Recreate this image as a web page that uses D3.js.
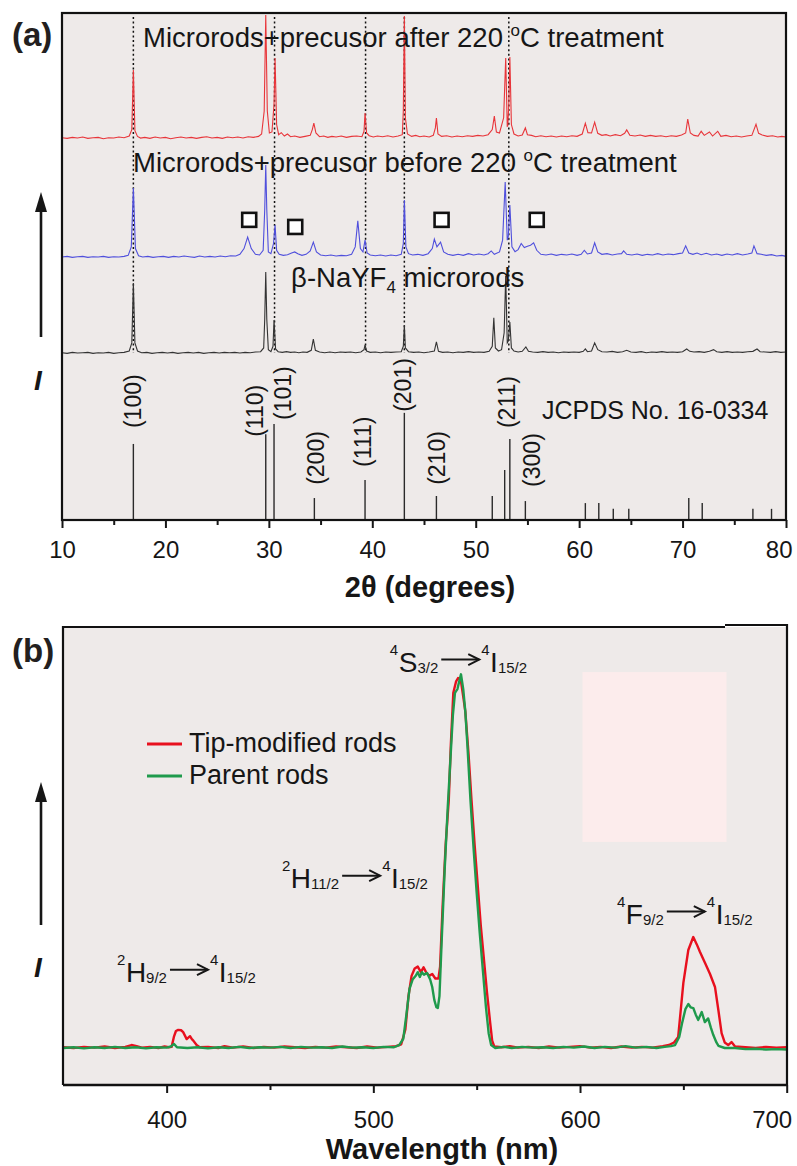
<!DOCTYPE html>
<html>
<head>
<meta charset="utf-8">
<script src="https://cdn.jsdelivr.net/npm/d3@7"></script>
<style>
  html, body { margin: 0; padding: 0; background: #ffffff; }
  svg { display: block; font-family: "Liberation Sans", Arial, Helvetica, sans-serif; }
</style>
</head>
<body>
<svg id="fig" width="797" height="1166"></svg>
<script>
// ---------------- (a) XRD patterns ----------------
const xrdTicks = [10, 20, 30, 40, 50, 60, 70, 80];
const xrdMinorTicks = [15, 25, 35, 45, 55, 65, 75];

// vertical stacking offsets of the three patterns (a.u.)
const offsetAfter = 113;
const offsetBefore = 77.8;
const offsetPure = 49.4;

// microrods + precursor after 220 °C treatment: [2θ, intensity]
const xrdAfter = [
  [10.0,0.1],[10.5,-0.1],[11.0,0.2],[11.5,0.0],[12.0,0.3],[12.5,-0.1],[13.0,0.1],[13.5,0.2],[14.0,-0.2],[14.5,0.1],
  [15.0,0.0],[15.5,0.3],[16.0,0.1],[16.5,0.6],[16.75,2.5],[16.9,20.1],[17.05,2.2],[17.3,0.5],[17.6,0.0],[18.0,0.2],
  [18.5,-0.1],[19.0,0.3],[19.5,0.0],[20.0,0.2],[20.5,-0.2],[21.0,0.1],[21.5,0.3],[22.0,0.0],[22.5,0.2],[23.0,-0.1],
  [23.5,0.2],[24.0,0.4],[24.5,0.0],[25.0,0.2],[25.5,-0.1],[26.0,0.3],[26.5,0.1],[27.0,0.3],[27.5,0.0],[28.0,0.4],
  [28.5,0.2],[29.0,0.5],[29.3,1.2],[29.55,8],[29.7,36.4],[29.85,8],[30.05,1.5],[30.3,1.8],[30.5,10],[30.6,23.7],
  [30.75,4],[30.95,1.0],[31.2,1.6],[31.5,0.6],[31.8,1.2],[32.1,0.4],[32.5,0.6],[33.0,0.2],[33.5,0.5],[34.0,0.8],
  [34.2,2.5],[34.35,4.4],[34.55,1.5],[34.9,0.4],[35.3,0.6],[35.7,0.2],[36.1,0.5],[36.5,0.3],[37.0,0.6],[37.5,0.2],
  [38.0,0.5],[38.5,0.6],[39.0,0.4],[39.2,2.0],[39.3,7.4],[39.45,1.5],[39.7,0.7],[40.1,0.3],[40.5,0.6],[41.0,0.4],
  [41.5,0.7],[42.0,0.3],[42.5,0.6],[42.9,1.0],[43.0,8],[43.1,36.1],[43.2,6],[43.4,1.2],[43.8,0.5],[44.2,0.8],
  [44.6,0.4],[45.0,0.6],[45.5,0.3],[45.9,0.8],[46.1,3],[46.2,5.9],[46.35,1.2],[46.7,0.5],[47.2,0.7],[47.7,0.3],
  [48.2,0.6],[48.7,0.4],[49.2,0.7],[49.7,0.5],[50.2,0.8],[50.7,0.6],[51.2,1.0],[51.6,2.5],[51.8,6.5],[52.0,1.8],
  [52.3,1.5],[52.7,6],[52.9,23.7],[53.05,3.5],[53.1,3.6],[53.2,10],[53.3,24],[53.45,4],[53.7,1.2],[54.1,0.6],
  [54.5,0.9],[54.8,3.0],[55.0,1.0],[55.4,0.8],[55.8,0.4],[56.3,0.7],[56.8,0.4],[57.3,0.6],[57.8,0.3],[58.3,0.6],
  [58.8,0.4],[59.3,0.7],[59.8,0.5],[60.3,1.2],[60.6,4.4],[60.85,1.6],[61.2,1.5],[61.5,4.7],[61.8,1.4],[62.2,0.8],
  [62.6,1.0],[63.0,0.6],[63.5,1.0],[64.0,0.7],[64.4,1.4],[64.6,2.4],[64.9,0.8],[65.4,0.6],[65.9,0.9],[66.4,0.5],
  [66.9,0.8],[67.4,0.5],[67.9,0.7],[68.4,0.4],[68.9,0.7],[69.4,0.5],[69.9,0.9],[70.3,1.5],[70.5,5.6],[70.75,1.5],
  [71.1,0.8],[71.5,0.6],[71.8,2.0],[72.1,0.8],[72.6,1.8],[72.9,0.6],[73.4,2.0],[73.7,0.5],[74.2,0.8],[74.7,0.4],
  [75.2,0.6],[75.7,0.3],[76.2,0.6],[76.7,0.8],[77.1,4.1],[77.35,1.4],[77.7,0.9],[78.2,0.5],[78.7,0.7],[79.2,0.3],
  [79.6,0.5],[80.0,0.3]
];

// microrods + precursor before 220 °C treatment
const xrdBefore = [
  [10.0,0.0],[10.5,0.2],[11.0,-0.1],[11.5,0.1],[12.0,0.2],[12.5,-0.1],[13.0,0.1],[13.5,0.0],[14.0,0.2],[14.5,-0.1],
  [15.0,0.1],[15.5,0.0],[16.0,0.2],[16.4,0.5],[16.7,3],[16.9,20.4],[17.1,2.5],[17.4,0.4],[17.8,0.0],[18.3,0.2],
  [18.8,-0.1],[19.3,0.1],[19.8,0.2],[20.3,-0.1],[20.8,0.2],[21.3,0.0],[21.8,0.3],[22.3,0.1],[22.8,-0.1],[23.3,0.3],
  [23.8,0.0],[24.3,0.2],[24.8,0.0],[25.3,0.3],[25.8,0.1],[26.3,0.4],[26.8,0.3],[27.2,0.8],[27.6,2.5],[27.95,5.9],
  [28.3,2.5],[28.7,0.8],[29.1,0.6],[29.45,2],[29.6,14],[29.7,27.2],[29.8,14],[29.95,1.5],[30.2,1.0],[30.45,4],
  [30.6,9.5],[30.75,2],[31.0,0.8],[31.4,0.5],[31.8,0.7],[32.2,1.2],[32.5,1.5],[32.8,1.0],[33.2,0.5],[33.6,0.8],
  [34.0,1.8],[34.3,4.4],[34.6,1.5],[35.0,0.6],[35.5,0.4],[36.0,0.6],[36.5,0.3],[37.0,0.5],[37.5,0.4],[38.0,0.8],
  [38.35,3],[38.6,10.7],[38.85,2.5],[39.1,1.5],[39.3,5],[39.5,1.2],[39.8,0.6],[40.3,0.4],[40.8,0.6],[41.3,0.3],
  [41.8,0.6],[42.3,0.4],[42.8,0.8],[43.0,4],[43.1,16.9],[43.25,3],[43.5,1.0],[43.9,0.6],[44.4,0.8],[44.9,0.5],
  [45.4,1.0],[45.8,2.5],[46.0,5.3],[46.25,3.0],[46.6,4.4],[46.9,1.5],[47.3,0.8],[47.8,0.5],[48.3,0.8],[48.8,0.5],
  [49.3,1.0],[49.8,0.6],[50.3,0.9],[50.8,0.6],[51.2,1.0],[51.5,1.8],[51.8,0.8],[52.3,1.5],[52.6,5],[52.85,22.2],
  [53.05,5],[53.15,6],[53.3,15.4],[53.5,3],[53.8,1.6],[54.1,2.2],[54.4,4.0],[54.7,2.8],[55.0,3.2],[55.3,3.5],
  [55.6,4.2],[55.9,2.0],[56.3,0.8],[56.8,0.6],[57.3,0.9],[57.8,0.5],[58.3,0.8],[58.8,0.6],[59.3,0.9],[59.8,0.5],
  [60.2,0.8],[60.5,2.0],[60.8,0.9],[61.2,1.2],[61.5,4.2],[61.8,1.5],[62.2,0.8],[62.7,1.0],[63.2,0.6],[63.7,0.9],
  [64.1,1.0],[64.3,1.8],[64.6,0.8],[65.1,0.6],[65.6,0.9],[66.1,0.5],[66.6,0.8],[67.1,0.6],[67.6,1.0],[68.1,0.6],
  [68.6,0.9],[69.1,0.7],[69.6,1.0],[70.0,1.2],[70.3,3.3],[70.6,1.2],[71.0,0.8],[71.4,1.2],[71.8,0.7],[72.3,1.1],
  [72.8,0.6],[73.3,0.9],[73.8,0.5],[74.3,0.9],[74.8,0.6],[75.3,1.0],[75.8,0.6],[76.3,0.9],[76.7,1.2],[76.9,3.3],
  [77.2,1.0],[77.6,0.8],[78.1,0.5],[78.6,0.7],[79.1,0.3],[79.6,0.5],[80.0,0.2]
];

// β-NaYF4 microrods
const xrdPure = [
  [10.0,0.1],[10.5,-0.1],[11.0,0.2],[11.5,0.0],[12.0,0.1],[12.5,0.2],[13.0,-0.1],[13.5,0.1],[14.0,0.0],[14.5,0.2],
  [15.0,-0.1],[15.5,0.1],[16.0,0.2],[16.5,0.6],[16.75,3],[16.9,20.7],[17.05,3],[17.3,0.6],[17.7,0.1],[18.2,0.2],
  [18.7,-0.1],[19.2,0.1],[19.7,0.2],[20.2,0.0],[20.7,0.2],[21.2,-0.1],[21.7,0.1],[22.2,0.2],[22.7,0.0],[23.2,0.2],
  [23.7,-0.1],[24.2,0.1],[24.7,0.2],[25.2,0.0],[25.7,0.2],[26.2,0.1],[26.7,0.2],[27.2,0.0],[27.7,0.2],[28.2,0.1],
  [28.7,0.3],[29.2,0.4],[29.5,1.5],[29.6,10],[29.7,24],[29.8,10],[29.95,1.0],[30.2,0.4],[30.4,2],[30.5,9.8],
  [30.65,1.2],[30.9,0.4],[31.3,0.2],[31.7,0.4],[32.1,0.2],[32.5,0.3],[32.9,0.1],[33.3,0.3],[33.7,0.2],[34.1,0.8],
  [34.3,4.1],[34.5,0.8],[34.9,0.3],[35.4,0.1],[35.9,0.3],[36.4,0.1],[36.9,0.3],[37.4,0.2],[37.9,0.3],[38.4,0.1],
  [38.9,0.3],[39.2,1.0],[39.3,2.4],[39.45,0.6],[39.8,0.2],[40.3,0.3],[40.8,0.1],[41.3,0.3],[41.8,0.2],[42.3,0.3],
  [42.8,0.4],[43.0,2],[43.1,8.3],[43.2,1.5],[43.5,0.4],[44.0,0.2],[44.5,0.3],[45.0,0.1],[45.5,0.3],[46.0,0.6],
  [46.2,3.3],[46.4,0.5],[46.8,0.2],[47.3,0.3],[47.8,0.1],[48.3,0.3],[48.8,0.2],[49.3,0.4],[49.8,0.2],[50.3,0.3],
  [50.8,0.2],[51.3,0.5],[51.6,2],[51.75,10.4],[51.9,1.5],[52.2,0.6],[52.5,1.0],[52.75,6],[52.9,22.8],[53.05,3],
  [53.15,3.5],[53.3,9.2],[53.45,1.5],[53.7,0.6],[54.1,0.3],[54.5,0.5],[54.85,1.8],[55.1,0.5],[55.5,0.3],[56.0,0.2],
  [56.5,0.4],[57.0,0.2],[57.5,0.3],[58.0,0.1],[58.5,0.3],[59.0,0.2],[59.5,0.3],[60.0,0.2],[60.4,0.5],[60.6,1.2],
  [60.8,0.4],[61.2,0.6],[61.5,3.0],[61.8,1.0],[62.2,0.4],[62.7,0.3],[63.2,0.5],[63.7,0.2],[64.2,0.4],[64.6,0.8],
  [65.0,0.3],[65.5,0.2],[66.0,0.4],[66.5,0.1],[67.0,0.3],[67.5,0.2],[68.0,0.4],[68.5,0.2],[69.0,0.3],[69.5,0.2],
  [70.0,0.4],[70.4,1.2],[70.7,0.5],[71.1,0.3],[71.6,0.4],[72.1,0.2],[72.6,0.5],[73.0,1.0],[73.3,0.4],[73.8,0.2],
  [74.3,0.4],[74.8,0.2],[75.3,0.3],[75.8,0.2],[76.3,0.4],[76.8,0.5],[77.2,1.2],[77.5,0.4],[78.0,0.3],[78.5,0.2],
  [79.0,0.4],[79.5,0.2],[80.0,0.3]
];

// JCPDS No. 16-0334 reference lines: [2θ, relative intensity]
const jcpdsLines = [
  [16.9,22.5],[29.7,25.4],[30.5,28.4],[34.4,6.5],[39.3,11.8],[43.1,31.7],[46.2,7.1],[51.6,7.1],
  [52.8,14.8],[53.3,24],[54.8,5.6],[60.6,5.0],[61.9,5.0],[63.3,3.3],[64.8,3.3],[70.6,6.5],
  [71.9,5.0],[76.8,3.3],[78.6,3.3]
];
// Miller indices: [label, 2θ, intensity at the foot of the label]
const hklLabels = [
  ["(100)",16.9,27.2],["(110)",28.67,24.6],["(101)",31.4,29.6],["(200)",34.6,10.4],["(111)",39.1,15.7],
  ["(201)",42.95,32],["(210)",46.3,10.4],["(211)",53.05,27.2],["(300)",55.4,9.8]
];
// guide lines through the main reflections
const guideLines = [16.9, 30.55, 39.35, 43.1, 53.2];
// precursor reflections marked with squares: [2θ, intensity]
const precursorMarks = [[28.1,88.8],[32.55,86.7],[46.7,88.8],[55.9,88.8]];

// ---------------- (b) upconversion emission ----------------
const wlTicks = [400, 500, 600, 700];
const wlMinorTicks = [450, 550, 650];

// tip-modified rods: [wavelength nm, intensity]
const emTip = [
  [350,0.2],[355,0.0],[360,0.3],[365,0.1],[370,0.4],[375,0.0],[380,0.3],[383,0.8],[385.5,0.5],[388,0.1],
  [392,0.3],[396,0.0],[399,0.4],[401,0.2],[402.4,0.3],[403.5,3],[404.5,4.6],[405.6,4.9],[407,4.8],[408,4.3],
  [409.7,2.4],[411.3,3.2],[412.2,2.4],[412.9,2.0],[414.5,0.8],[416,0.2],[420,0.3],[425,0.0],[428,0.5],[432,0.1],
  [437,0.4],[442,0.0],[447,0.3],[452,0.1],[457,0.4],[462,0.2],[467,0.0],[472,0.3],[477,0.1],[482,0.4],
  [487,0.2],[492,0.0],[497,0.4],[502,0.1],[507,0.3],[511,0.5],[513.5,1.0],[515.5,5],[517,14],[518.5,19.5],
  [520,21.5],[521.5,22],[523,20.5],[524.3,21.8],[525.5,20.5],[527,19.5],[528.5,20],[530,18.8],[531.5,18.8],[532.3,22],
  [533.5,38],[535,55],[536.5,67],[537.5,82],[538.7,96],[540,99],[541,100],[542.3,99.5],[543.5,95],[544.5,91],
  [546,80],[547.5,67],[549,55],[550.5,44],[552,33],[553.5,24],[555,15],[556.5,7],[557.5,2],[558.5,0.4],
  [562,0.2],[566,0.5],[570,0.1],[575,0.3],[580,0.0],[585,0.4],[590,0.1],[595,0.3],[600,0.5],[605,0.1],
  [610,0.3],[615,0.0],[620,0.4],[625,0.1],[630,0.3],[635,0.1],[640,0.5],[643,0.8],[645.5,1.5],[647.5,3],
  [650,17.6],[652.4,26.5],[654.8,30],[656.5,28],[658,26],[660.5,23],[662.9,20],[665.3,16.5],[667,10],[668.5,4],
  [670,1.5],[671.7,0.8],[673.3,1.6],[675,0.4],[680,0.2],[685,0.0],[690,0.3],[695,0.1],[700,0.2]
];
// parent rods
const emParent = [
  [350,0.0],[355,0.2],[360,-0.1],[365,0.2],[370,0.0],[375,0.3],[380,0.0],[385,0.2],[390,-0.1],[395,0.2],
  [400,0.1],[402,0.4],[403.6,1.1],[405,0.2],[410,0.0],[415,0.2],[420,-0.1],[425,0.2],[430,0.0],[435,0.3],
  [440,0.0],[445,0.2],[450,0.1],[455,0.3],[460,0.0],[465,0.3],[470,0.1],[475,0.2],[480,0.0],[485,0.4],
  [490,0.1],[495,0.2],[500,0.0],[505,0.3],[510,0.2],[512.5,0.8],[514.5,2.5],[516,9],[517.5,16],[519,18.5],
  [520.5,19.5],[521.5,20.5],[522.5,19.2],[523.5,20.5],[524.5,19.8],[526,20.3],[527.5,18.5],[528.5,16.5],[529.5,13],[530.5,11],
  [531.2,10.8],[532,14],[533,28],[534.5,48],[536,65],[537.5,80],[538.5,90],[539.5,96],[540.7,97],[541.5,99],
  [542.4,101],[543.5,97],[544.5,91],[545.5,82],[547,67],[548.5,54],[550,42],[551.5,31],[553,21],[554.5,11],
  [555.8,4],[557,0.8],[559,0.0],[563,0.3],[567,0.0],[572,0.3],[577,0.1],[582,0.2],[587,0.0],[592,0.3],
  [597,0.1],[602,0.4],[607,0.0],[612,0.3],[617,0.1],[622,0.5],[627,0.1],[632,0.3],[637,0.0],[641,0.3],
  [644,0.5],[646,0.8],[648,3],[649.5,7],[651,10.5],[652.4,11.9],[653.5,11],[654.8,10.8],[656,9],[657.2,7.6],
  [658.9,9.7],[660.4,7],[662,8],[663.3,5.5],[664.5,3.5],[666,1.5],[667,0.6],[670,0.0],[675,0.0],[680,-0.3],
  [685,-0.2],[690,-0.4],[695,-0.3],[700,-0.4]
];
// transition labels: [wavelength at left edge, intensity at baseline]
const transitionAnchors = [[376.0,17.8],[455.8,43.2],[508.0,101.6],[617.9,33.5]];

// ---------------- drawing ----------------
const svg = d3.select("#fig");
const ink = "#161616";
const plotBg = "#eeeae9";

// term symbol such as ²H9/2 → ⁴I15/2 drawn piece by piece
function termLabel(g, x0, base, parts) {
  let x = x0;
  parts.forEach(p => {
    if (p.k === "arrow") {
      const len = 38, ay = base - 12.5, sx = x + 3;
      g.append("line").attr("x1", sx).attr("x2", sx + len).attr("y1", ay).attr("y2", ay)
        .attr("stroke", ink).attr("stroke-width", 2);
      g.append("path").attr("d", `M${sx + len - 11},${ay - 5.5}L${sx + len},${ay}L${sx + len - 11},${ay + 5.5}`)
        .attr("fill", "none").attr("stroke", ink).attr("stroke-width", 2);
      x = sx + len + 2;
      return;
    }
    const fs = p.k === "main" ? 28 : 15;
    const dy = p.k === "sup" ? -17 : (p.k === "sub" ? 1 : 0);
    const t = g.append("text").attr("x", x).attr("y", base + dy)
      .attr("font-size", fs).attr("fill", ink).text(p.t);
    x += t.node().getComputedTextLength() + (p.k === "sup" ? 0.5 : 0);
  });
}

function intensityArrow(g, x, tip, bottom) {
  g.append("line").attr("x1", x).attr("x2", x).attr("y1", tip + 16).attr("y2", bottom)
    .attr("stroke", ink).attr("stroke-width", 2.6);
  g.append("path").attr("d", `M${x},${tip}L${x - 6},${tip + 20}L${x + 6},${tip + 20}Z`).attr("fill", ink);
}

function styleAxis(g, fontSize) {
  g.select(".domain").remove();
  g.selectAll(".tick line").attr("stroke", ink).attr("stroke-width", 2);
  g.selectAll(".tick text").attr("font-size", fontSize).attr("fill", ink)
    .attr("font-family", "\"Liberation Sans\", Arial, sans-serif");
}

// ===== panel (a) =====
const aL = 62, aR = 786, aT = 13, aB = 520;
const xA = d3.scaleLinear().domain([10, 80]).range([aL, aR]);
const yA = d3.scaleLinear().domain([0, 150]).range([aB, aT]);
const gA = svg.append("g");

gA.append("rect").attr("x", aL).attr("y", aT).attr("width", aR - aL).attr("height", aB - aT).attr("fill", plotBg);

// reference stick pattern
gA.selectAll(".stick").data(jcpdsLines).join("line")
  .attr("x1", d => xA(d[0])).attr("x2", d => xA(d[0]))
  .attr("y1", yA(0)).attr("y2", d => yA(d[1]))
  .attr("stroke", "#2a2a2a").attr("stroke-width", 1.4);

gA.selectAll(".hkl").data(hklLabels).join("text")
  .attr("transform", d => `translate(${xA(d[1])},${yA(d[2])}) rotate(-90)`)
  .attr("dominant-baseline", "central")
  .attr("font-size", 23).attr("fill", ink)
  .text(d => d[0]);

// dotted guides
gA.selectAll(".guide").data(guideLines).join("line")
  .attr("x1", d => xA(d)).attr("x2", d => xA(d))
  .attr("y1", aT + 4).attr("y2", yA(offsetPure))
  .attr("stroke", "#111").attr("stroke-width", 1.5).attr("stroke-dasharray", "2,2.6");

// diffraction patterns
const xrdLine = off => d3.line().x(d => xA(d[0])).y(d => yA(d[1] + off));
gA.append("path").datum(xrdPure).attr("d", xrdLine(offsetPure))
  .attr("fill", "none").attr("stroke", "#333333").attr("stroke-width", 1.1);
gA.append("path").datum(xrdBefore).attr("d", xrdLine(offsetBefore))
  .attr("fill", "none").attr("stroke", "#4f4fdc").attr("stroke-width", 1.1);
gA.append("path").datum(xrdAfter).attr("d", xrdLine(offsetAfter))
  .attr("fill", "none").attr("stroke", "#e8353a").attr("stroke-width", 1.1);

// precursor markers
gA.selectAll(".mark").data(precursorMarks).join("rect")
  .attr("x", d => xA(d[0]) - 7).attr("y", d => yA(d[1]) - 7)
  .attr("width", 14).attr("height", 14)
  .attr("fill", "#ffffff").attr("stroke", "#111").attr("stroke-width", 2.6);

// pattern captions
const capAfter = gA.append("text").attr("x", xA(17.83)).attr("y", yA(139.9))
  .attr("font-size", 27.5).attr("fill", ink);
capAfter.append("tspan").text("Microrods+precusor after 220 ");
capAfter.append("tspan").attr("font-size", 17).attr("dy", -11).text("o");
capAfter.append("tspan").attr("dy", 11).text("C treatment");

const capBefore = gA.append("text").attr("x", xA(16.87)).attr("y", yA(103))
  .attr("font-size", 27.5).attr("fill", ink);
capBefore.append("tspan").text("Microrods+precusor before 220 ");
capBefore.append("tspan").attr("font-size", 17).attr("dy", -11).text("o");
capBefore.append("tspan").attr("dy", 11).text("C treatment");

const capPure = gA.append("text").attr("x", xA(32.15)).attr("y", yA(68.9))
  .attr("font-size", 27.5).attr("fill", ink);
capPure.append("tspan").text("β-NaYF");
capPure.append("tspan").attr("font-size", 17).attr("dy", 6).text("4");
capPure.append("tspan").attr("dy", -6).text(" microrods");

gA.append("text").attr("x", xA(56.4)).attr("y", yA(29.9))
  .attr("font-size", 25).attr("fill", ink).text("JCPDS No. 16-0334");

// frame
gA.append("rect").attr("x", aL).attr("y", aT).attr("width", aR - aL).attr("height", aB - aT)
  .attr("fill", "none").attr("stroke", "#111").attr("stroke-width", 2.2);

// x axis
const axA = gA.append("g").attr("transform", `translate(0,${aB})`)
  .call(d3.axisBottom(xA).tickValues(xrdTicks).tickFormat(d3.format("d"))
    .tickSize(8).tickSizeOuter(0).tickPadding(13));
styleAxis(axA, 24);
// last label kept inside the page
axA.selectAll(".tick text").filter(d => d === 80).attr("text-anchor", "end").attr("dx", 6);
const axAm = gA.append("g").attr("transform", `translate(0,${aB})`)
  .call(d3.axisBottom(xA).tickValues(xrdMinorTicks).tickFormat("").tickSize(5).tickSizeOuter(0));
styleAxis(axAm, 24);

gA.append("text").attr("x", 430).attr("y", 597).attr("text-anchor", "middle")
  .attr("font-size", 29).attr("font-weight", "bold").attr("fill", ink).text("2θ (degrees)");

gA.append("text").attr("x", 12).attr("y", 46).attr("font-size", 33).attr("font-weight", "bold")
  .attr("fill", "#231f20").text("(a)");
intensityArrow(gA, 41, 192, 337);
gA.append("text").attr("x", 38).attr("y", 390).attr("text-anchor", "middle")
  .attr("font-size", 28).attr("font-weight", "bold").attr("font-style", "italic").attr("fill", ink).text("I");

// ===== panel (b) =====
const bL = 63, bR = 787, bT = 627, bB = 1085;
const xB = d3.scaleLinear().domain([350, 700]).range([63.3, 786.7]);
const yB = d3.scaleLinear().domain([-10, 100]).range([bB, 678]);
const gB = svg.append("g");

gB.append("rect").attr("x", bL).attr("y", bT).attr("width", bR - bL).attr("height", bB - bT).attr("fill", plotBg);
gB.append("rect")
  .attr("x", xB(601.2)).attr("y", yB(101.6))
  .attr("width", xB(670.9) - xB(601.2)).attr("height", yB(55.7) - yB(101.6))
  .attr("fill", "#fcecec");

const emLine = d3.line().x(d => xB(d[0])).y(d => yB(d[1]));
gB.append("path").datum(emTip).attr("d", emLine)
  .attr("fill", "none").attr("stroke", "#e8101e").attr("stroke-width", 2.4).attr("stroke-linejoin", "round");
gB.append("path").datum(emParent).attr("d", emLine)
  .attr("fill", "none").attr("stroke", "#1f9a4c").attr("stroke-width", 2.4).attr("stroke-linejoin", "round");

// transition labels
const T = transitionAnchors.map(d => [xB(d[0]), yB(d[1])]);
termLabel(gB, T[0][0], T[0][1], [{t:"2",k:"sup"},{t:"H",k:"main"},{t:"9/2",k:"sub"},{k:"arrow"},{t:"4",k:"sup"},{t:"I",k:"main"},{t:"15/2",k:"sub"}]);
termLabel(gB, T[1][0], T[1][1], [{t:"2",k:"sup"},{t:"H",k:"main"},{t:"11/2",k:"sub"},{k:"arrow"},{t:"4",k:"sup"},{t:"I",k:"main"},{t:"15/2",k:"sub"}]);
termLabel(gB, T[2][0], T[2][1], [{t:"4",k:"sup"},{t:"S",k:"main"},{t:"3/2",k:"sub"},{k:"arrow"},{t:"4",k:"sup"},{t:"I",k:"main"},{t:"15/2",k:"sub"}]);
termLabel(gB, T[3][0], T[3][1], [{t:"4",k:"sup"},{t:"F",k:"main"},{t:"9/2",k:"sub"},{k:"arrow"},{t:"4",k:"sup"},{t:"I",k:"main"},{t:"15/2",k:"sub"}]);

// legend
const legendItems = [["Tip-modified rods", "#e8101e"], ["Parent rods", "#1f9a4c"]];
legendItems.forEach((item, i) => {
  const ly = 744 + i * 32;
  gB.append("line").attr("x1", 147).attr("x2", 182).attr("y1", ly).attr("y2", ly)
    .attr("stroke", item[1]).attr("stroke-width", 3);
  gB.append("text").attr("x", 189).attr("y", ly + 8).attr("font-size", 27).attr("fill", ink).text(item[0]);
});

// frame (top edge is offset slightly on the right-hand end)
gB.append("path")
  .attr("d", `M${bL},${bB}L${bL},${bT}L725,${bT}M725,${bT - 2}L${bR},${bT - 2}L${bR},${bB}`)
  .attr("fill", "none").attr("stroke", "#111").attr("stroke-width", 2.2);
gB.append("line").attr("x1", bL).attr("x2", bR).attr("y1", bB).attr("y2", bB)
  .attr("stroke", "#111").attr("stroke-width", 2.4);

const axB = gB.append("g").attr("transform", `translate(0,${bB})`)
  .call(d3.axisBottom(xB).tickValues(wlTicks).tickSize(8).tickSizeOuter(0).tickPadding(18));
styleAxis(axB, 24);
axB.selectAll(".tick text").filter(d => d === 700).attr("text-anchor", "end").attr("dx", 5);
const axBm = gB.append("g").attr("transform", `translate(0,${bB})`)
  .call(d3.axisBottom(xB).tickValues(wlMinorTicks).tickFormat("").tickSize(5).tickSizeOuter(0));
styleAxis(axBm, 24);

gB.append("text").attr("x", 442).attr("y", 1159).attr("text-anchor", "middle")
  .attr("font-size", 29).attr("font-weight", "bold").attr("fill", ink).text("Wavelength (nm)");

gB.append("text").attr("x", 12).attr("y", 662).attr("font-size", 33).attr("font-weight", "bold")
  .attr("fill", "#231f20").text("(b)");
intensityArrow(gB, 41, 782, 925);
gB.append("text").attr("x", 38).attr("y", 977).attr("text-anchor", "middle")
  .attr("font-size", 28).attr("font-weight", "bold").attr("font-style", "italic").attr("fill", ink).text("I");
</script>
</body>
</html>
